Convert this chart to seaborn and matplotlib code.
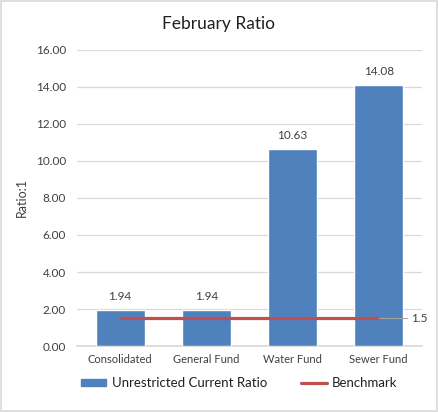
import seaborn as sns
import pandas as pd
import matplotlib.pyplot as plt
from matplotlib.patches import Rectangle
from matplotlib.lines import Line2D

categories = ["Consolidated", "General Fund", "Water Fund", "Sewer Fund"]
ratios = [1.94, 1.94, 10.63, 14.08]
benchmark = [1.5, 1.5, 1.5, 1.5]
y_ticks = [0, 2, 4, 6, 8, 10, 12, 14, 16]

sns.set_theme(style="white")
plt.rcParams["font.family"] = ["Lato", "DejaVu Sans"]

df = pd.DataFrame({"fund": categories, "ratio": ratios, "bench": benchmark})

fig = plt.figure(figsize=(4.38, 4.12), dpi=100)
ax = fig.add_axes([0.176, 0.160, 0.787, 0.719])

sns.barplot(data=df, x="fund", y="ratio", color="#4F81BD", saturation=1,
            width=0.57, ax=ax, zorder=3)
sns.lineplot(data=df, x="fund", y="bench", color="#C0504D", linewidth=2.3,
             ax=ax, zorder=4, sort=False)

for i, v in enumerate(ratios):
    ax.text(i, v + 0.45, f"{v:.2f}", ha="center", va="bottom",
            fontsize=8.5, color="#404040")

# benchmark value label with leader line
last = len(categories) - 1
ax.plot([last, last + 0.33], [benchmark[-1], benchmark[-1]], color="#A6A6A6",
        linewidth=0.8, zorder=4)
ax.text(last + 0.37, benchmark[-1], f"{benchmark[-1]:g}", ha="left",
        va="center", fontsize=8.5, color="#404040")

ax.set_xlim(-0.5, 3.5)
ax.set_ylim(0, 16)
ax.set_yticks(y_ticks)
ax.set_yticklabels([f"{t:.2f}" for t in y_ticks])
ax.yaxis.grid(True, color="#D9D9D9", linewidth=0.9, zorder=0)
ax.set_axisbelow(True)
for s in ["top", "right", "left"]:
    ax.spines[s].set_visible(False)
ax.spines["bottom"].set_color("#D9D9D9")
ax.tick_params(axis="x", labelsize=8, colors="#404040", length=0, pad=6)
ax.tick_params(axis="y", labelsize=8.5, colors="#404040", length=0, pad=8)
ax.set_xlabel("")
ax.set_ylabel("Ratio:1", fontsize=9, color="#404040", labelpad=6)
fig.text(0.5, 0.942, "February Ratio", ha="center", va="center",
         fontsize=12.5, color="#202020")

handles = [Rectangle((0, 0), 1, 1, color="#4F81BD"),
           Line2D([0], [0], color="#C0504D", linewidth=2.3)]
fig.legend(handles, ["Unrestricted Current Ratio", "Benchmark"],
           loc="center", bbox_to_anchor=(0.546, 0.07), ncol=2, frameon=False,
           fontsize=9.5, handlelength=1.95, handleheight=0.55,
           handletextpad=0.4, columnspacing=2.6, labelcolor="#202020")

fig.patches.append(Rectangle((0.002, 0.002), 0.996, 0.996,
                             transform=fig.transFigure, fill=False,
                             edgecolor="#D9D9D9", linewidth=1.2))

fig.savefig("out.png", dpi=100)
